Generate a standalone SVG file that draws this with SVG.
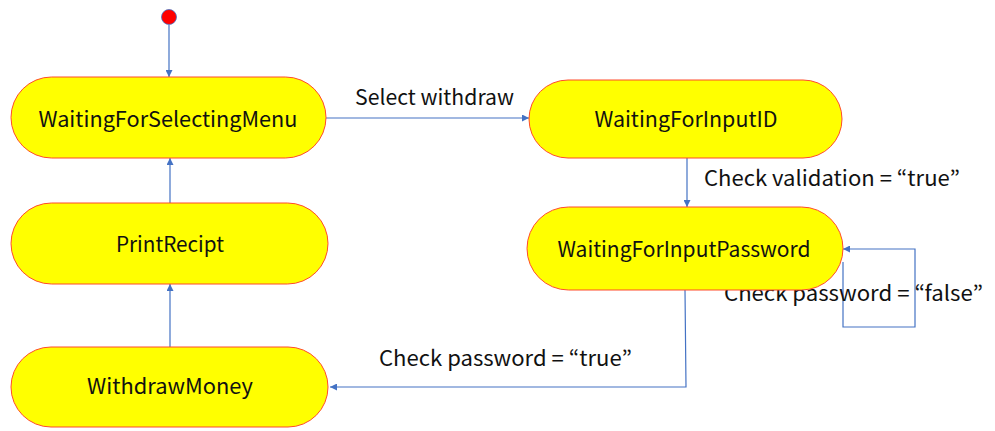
<svg xmlns="http://www.w3.org/2000/svg" width="995" height="431" viewBox="0 0 995 431">
  <style>
    .state rect { fill: #FFFF00; stroke: #FF4B2B; stroke-width: 1; }
    .state text, .label { font-family: "Noto Sans CJK KR", "Noto Sans", sans-serif; font-size: 21px; fill: #111; }
    .state text { text-anchor: middle; }
    .edge { fill: none; stroke: #4472C4; stroke-width: 1.2; }
  </style>
  <defs>
    <marker id="arrow" viewBox="0 0 10 10" refX="10" refY="5" markerWidth="7" markerHeight="7" markerUnits="userSpaceOnUse" orient="auto">
      <path d="M0,0 L10,5 L0,10 z" fill="#4472C4"/>
    </marker>
  </defs>

  <rect width="995" height="431" fill="#FFFFFF"/>

  <g id="start">
    <circle cx="169" cy="17" r="7.5" fill="#FF0000" stroke="#4472C4" stroke-width="0.8"/>
  </g>

  <g id="connectors">
    <path class="edge" d="M169,25 V77" marker-end="url(#arrow)"/>
    <path class="edge" d="M326,118 H529" marker-end="url(#arrow)"/>
    <path class="edge" d="M687,158 V207" marker-end="url(#arrow)"/>
    <path class="edge" d="M843,262 V327 H915 V249 H843" marker-end="url(#arrow)"/>
    <path class="edge" d="M685,290 L686,387 H330" marker-end="url(#arrow)"/>
    <path class="edge" d="M170,347 V284" marker-end="url(#arrow)"/>
    <path class="edge" d="M170,203 V158" marker-end="url(#arrow)"/>
  </g>

  <g id="labels">
    <text class="label" x="355" y="105" textLength="159" lengthAdjust="spacingAndGlyphs">Select withdraw</text>
    <text class="label" x="704" y="186" textLength="256" lengthAdjust="spacingAndGlyphs">Check validation = “true”</text>
    <text class="label" x="724" y="301" textLength="259" lengthAdjust="spacingAndGlyphs">Check password = “false”</text>
    <text class="label" x="379" y="366" textLength="253" lengthAdjust="spacingAndGlyphs">Check password = “true”</text>
  </g>

  <g id="WaitingForSelectingMenu" class="state">
    <rect x="11" y="77" width="315" height="81" rx="40.5"/>
    <text x="168" y="127" textLength="259" lengthAdjust="spacingAndGlyphs">WaitingForSelectingMenu</text>
  </g>

  <g id="WaitingForInputID" class="state">
    <rect x="529" y="80" width="313" height="78" rx="39"/>
    <text x="686" y="127" textLength="183" lengthAdjust="spacingAndGlyphs">WaitingForInputID</text>
  </g>

  <g id="WaitingForInputPassword" class="state">
    <rect x="527" y="207" width="316" height="83" rx="41.5"/>
    <text x="684" y="257" textLength="253" lengthAdjust="spacingAndGlyphs">WaitingForInputPassword</text>
  </g>

  <g id="PrintRecipt" class="state">
    <rect x="11" y="203" width="317" height="81" rx="40.5"/>
    <text x="170" y="252" textLength="108" lengthAdjust="spacingAndGlyphs">PrintRecipt</text>
  </g>

  <g id="WithdrawMoney" class="state">
    <rect x="11" y="347" width="317" height="80" rx="40"/>
    <text x="170" y="394" textLength="166" lengthAdjust="spacingAndGlyphs">WithdrawMoney</text>
  </g>
</svg>
